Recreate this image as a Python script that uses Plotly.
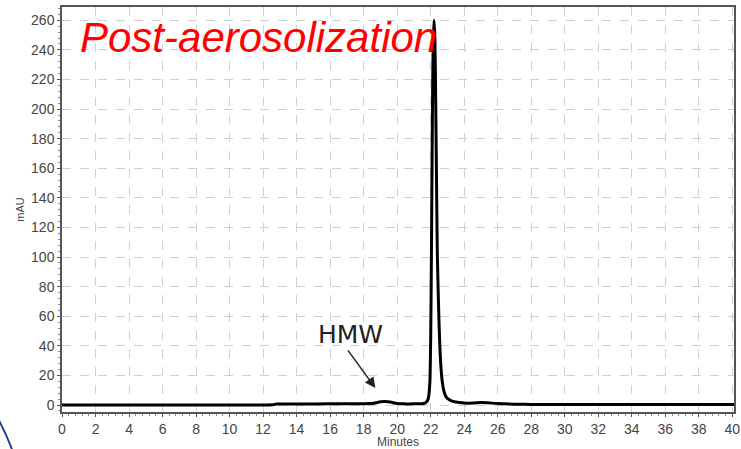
import plotly.graph_objects as go

minutes = [0, 2, 4, 6, 8, 10, 12, 12.6, 12.8, 14, 16, 18, 18.6, 19.0, 19.3, 19.6, 20.0, 20.4,
           21.0, 21.5, 21.7, 21.85, 21.95, 22.0, 22.05, 22.1, 22.15, 22.2, 22.25, 22.3,
           22.35, 22.4, 22.5, 22.6, 22.7, 22.8, 22.9, 23.0, 23.2, 23.5, 24.0, 24.5, 25.0,
           25.4, 26.0, 27.0, 28, 30, 32, 34, 36, 38, 40.2]
mau = [0.0, 0.0, 0.0, 0.0, 0.0, 0.0, 0.1, 0.2, 0.7, 0.7, 0.8, 0.9, 1.2, 2.2, 2.4, 2.0, 1.1, 0.8,
       0.8, 0.9, 1.5, 4, 15, 45, 110, 190, 245, 260, 248, 205,
       150, 100, 55, 28, 15, 9, 6, 4.5, 3, 2, 1.4, 1.3, 1.7,
       1.5, 1.0, 0.6, 0.4, 0.3, 0.3, 0.3, 0.3, 0.3, 0.3]

x_ticks = list(range(0, 42, 2))
y_ticks = list(range(0, 280, 20))

fig = go.Figure()
fig.add_trace(go.Scatter(x=minutes, y=mau, mode="lines",
                         line=dict(color="black", width=3, shape="spline", smoothing=0.6),
                         showlegend=False, hoverinfo="skip"))

fig.add_annotation(x=18.7, y=11.5, ax=17.0, ay=38, xref="x", yref="y", axref="x", ayref="y",
                   text="", showarrow=True, arrowhead=2, arrowsize=1.4, arrowwidth=1.5,
                   arrowcolor="#222")
fig.add_annotation(x=17.2, y=48, xref="x", yref="y", text="HMW", showarrow=False,
                   font=dict(family="DejaVu Sans", size=25, color="#222"))
fig.add_annotation(x=0.024, y=0.925, xref="paper", yref="paper", xanchor="left", yanchor="middle",
                   text="<i>Post-aerosolization</i>", showarrow=False,
                   font=dict(family="Arial, Liberation Sans", size=42, color="#ff0000"))

fig.add_shape(type="circle", xref="paper", yref="paper", x0=-0.735, x1=-0.053, y0=-0.862, y1=0.279,
              line=dict(color="#1f3f8f", width=2), layer="above")

axis_font = dict(family="Arial, Liberation Sans", size=14, color="#444")
fig.update_layout(
    width=741, height=449,
    margin=dict(l=62, r=1, t=7, b=37),
    paper_bgcolor="white", plot_bgcolor="white",
    xaxis=dict(range=[0, 40.1], tickvals=x_ticks, ticktext=[str(v) for v in x_ticks],
               tickfont=axis_font, showgrid=True, gridcolor="#d0d0d0", griddash="dash",
               gridwidth=1, showline=True, linecolor="#555", linewidth=1.5, mirror=True,
               ticks="outside", ticklen=3, tickcolor="#555", zeroline=False,
               ticklabeloverflow="allow",
               minor=dict(dtick=0.4, ticks="outside", ticklen=2, tickcolor="#888", showgrid=False),
               title=dict(text="Minutes", font=dict(family="Arial, Liberation Sans", size=12, color="#444"),
                          standoff=1)),
    yaxis=dict(range=[-4.7, 269], tickvals=y_ticks, ticktext=[str(v) for v in y_ticks],
               tickfont=axis_font, showgrid=True, gridcolor="#d0d0d0", griddash="dash",
               gridwidth=1, showline=True, linecolor="#555", linewidth=1.5, mirror=True,
               ticks="outside", ticklen=3, tickcolor="#555", zeroline=False,
               minor=dict(dtick=4, ticks="outside", ticklen=2, tickcolor="#888", showgrid=False),
               title=dict(text="mAU", font=dict(family="Arial, Liberation Sans", size=11, color="#444"),
                          standoff=4)),
)

fig.write_html("out.html")
